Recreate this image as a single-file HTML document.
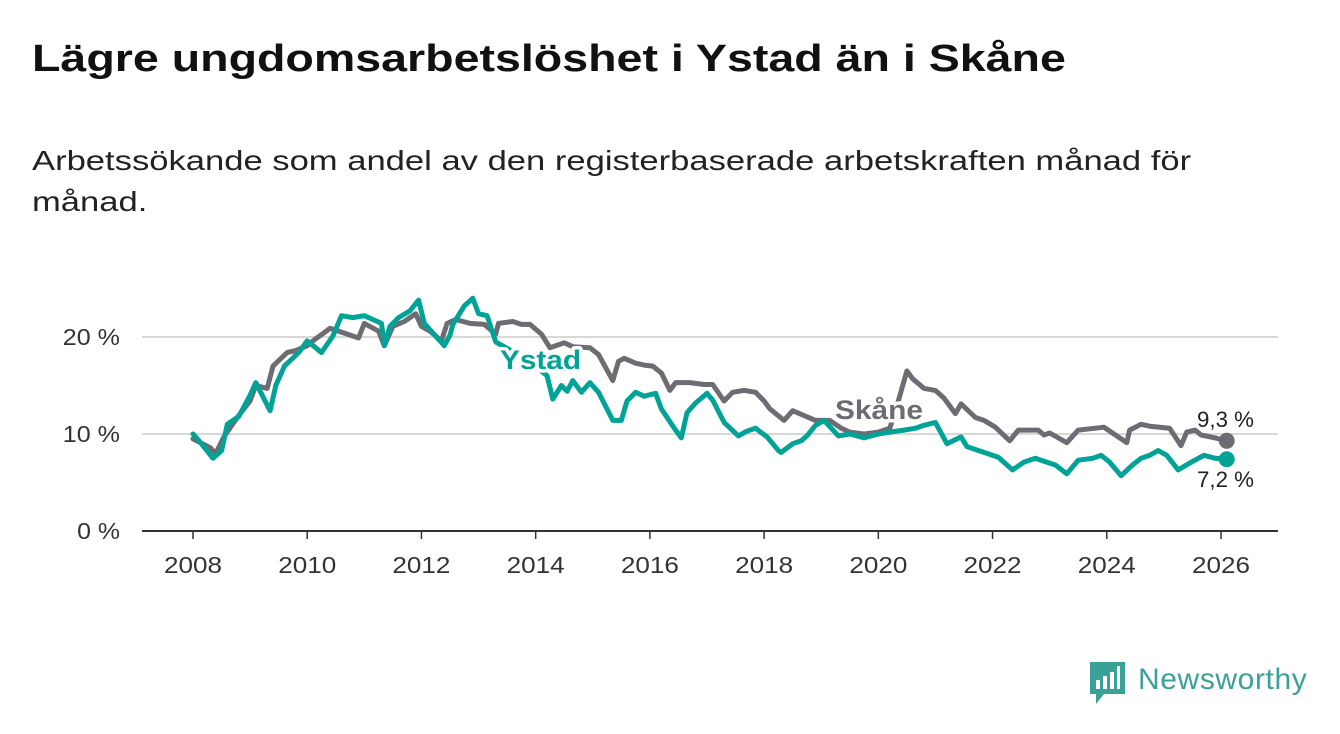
<!DOCTYPE html>
<html><head><meta charset="utf-8"><style>
body{margin:0;width:1340px;height:734px;background:#fff;overflow:hidden;font-family:"Liberation Sans",sans-serif;}
h1{position:absolute;left:32px;top:38px;margin:0;font-size:38px;font-weight:bold;color:#111;white-space:nowrap;transform:scaleX(1.225);transform-origin:0 0}
p.sub{position:absolute;left:32px;top:140px;margin:0;font-size:28px;line-height:41px;color:#222;white-space:nowrap;transform:scaleX(1.235);transform-origin:0 0}
svg{position:absolute;left:0;top:0}
</style></head><body>
<h1>Lägre ungdomsarbetslöshet i Ystad än i Skåne</h1>
<p class="sub">Arbetssökande som andel av den registerbaserade arbetskraften månad för<br>månad.</p>
<svg id="chart" width="1340" height="734"></svg>
<div style="position:absolute;left:1090px;top:662px;display:flex;align-items:center">
<svg width="35" height="43" style="position:static"><path d="M0 0H35V32H14L6 42V32H0Z" fill="#3aa198"/><rect x="6" y="18" width="4" height="9" fill="#fff"/><rect x="13" y="14" width="4" height="13" fill="#fff"/><rect x="20" y="10" width="4" height="17" fill="#fff"/><rect x="27" y="4" width="3" height="23" fill="#fff"/></svg>
<span style="margin-left:13px;font-size:30px;color:#3aa198;margin-top:-8px;letter-spacing:0.6px">Newsworthy</span>
</div>
<script>
const xTicks=[2008,2010,2012,2014,2016,2018,2020,2022,2024,2026];
const yTicks=[0,10,20];
const skaneDates=[2008.0,2008.1,2008.3,2008.4,2008.55,2008.8,2009.0,2009.1,2009.3,2009.4,2009.65,2009.8,2010.0,2010.1,2010.4,2010.65,2010.9,2011.0,2011.25,2011.35,2011.5,2011.7,2011.9,2012.0,2012.15,2012.35,2012.45,2012.6,2012.85,2013.1,2013.3,2013.35,2013.6,2013.75,2013.9,2014.1,2014.25,2014.4,2014.5,2014.65,2014.95,2015.1,2015.35,2015.45,2015.55,2015.75,2015.9,2016.05,2016.2,2016.35,2016.45,2016.7,2016.95,2017.1,2017.3,2017.45,2017.65,2017.85,2018.0,2018.1,2018.35,2018.5,2018.7,2018.9,2019.15,2019.35,2019.5,2019.75,2020.0,2020.2,2020.35,2020.5,2020.6,2020.8,2021.0,2021.15,2021.35,2021.45,2021.7,2021.85,2022.05,2022.3,2022.45,2022.8,2022.9,2023.0,2023.3,2023.5,2023.8,2023.95,2024.1,2024.35,2024.4,2024.6,2024.75,2025.1,2025.3,2025.4,2025.55,2025.65,2025.9,2026.1];
const skaneValues=[9.5,9.2,8.6,8.0,9.8,11.9,13.4,15.0,14.7,17.0,18.4,18.6,19.1,19.6,20.9,20.4,19.9,21.4,20.6,19.1,21.1,21.6,22.4,21.1,20.6,19.6,21.4,21.8,21.4,21.3,20.3,21.4,21.6,21.3,21.3,20.3,18.9,19.2,19.4,19.0,18.9,18.2,15.5,17.5,17.8,17.3,17.1,17.0,16.3,14.5,15.3,15.3,15.1,15.1,13.4,14.3,14.5,14.3,13.4,12.6,11.4,12.4,11.9,11.4,11.4,10.6,10.2,10.0,10.2,10.6,13.4,16.5,15.7,14.7,14.5,13.7,12.1,13.1,11.7,11.4,10.7,9.3,10.4,10.4,9.9,10.1,9.1,10.4,10.6,10.7,10.1,9.1,10.4,11.0,10.8,10.6,8.8,10.2,10.4,9.9,9.6,9.3];
const ystadDates=[2008.0,2008.12,2008.35,2008.5,2008.6,2008.8,2009.0,2009.1,2009.35,2009.45,2009.6,2009.85,2010.0,2010.25,2010.45,2010.6,2010.8,2011.0,2011.3,2011.35,2011.45,2011.6,2011.8,2011.95,2012.05,2012.4,2012.5,2012.55,2012.75,2012.9,2013.0,2013.15,2013.3,2013.6,2013.9,2014.2,2014.3,2014.45,2014.55,2014.65,2014.8,2014.95,2015.1,2015.35,2015.5,2015.6,2015.75,2015.9,2016.1,2016.2,2016.45,2016.55,2016.65,2016.8,2017.0,2017.1,2017.3,2017.55,2017.7,2017.85,2018.05,2018.25,2018.3,2018.5,2018.65,2018.75,2018.9,2019.05,2019.3,2019.5,2019.75,2020.0,2020.2,2020.45,2020.65,2020.8,2021.0,2021.2,2021.45,2021.55,2021.85,2022.1,2022.35,2022.55,2022.75,2022.9,2023.1,2023.3,2023.5,2023.75,2023.9,2024.05,2024.25,2024.45,2024.6,2024.75,2024.9,2025.05,2025.25,2025.45,2025.7,2025.9,2026.1];
const ystadValues=[10.0,9.2,7.5,8.3,11.0,11.8,14.0,15.3,12.4,15.0,17.0,18.4,19.6,18.4,20.1,22.2,22.0,22.2,21.4,19.1,21.1,22.0,22.7,23.8,21.4,19.1,20.2,21.3,23.2,24.0,22.4,22.2,19.5,18.5,17.5,16.0,13.6,15.0,14.4,15.5,14.3,15.3,14.3,11.4,11.4,13.4,14.3,13.9,14.2,12.6,10.4,9.6,12.2,13.2,14.2,13.5,11.2,9.8,10.3,10.6,9.7,8.3,8.1,9.0,9.3,9.8,10.9,11.4,9.8,10.0,9.6,10.0,10.2,10.4,10.6,10.9,11.2,9.0,9.7,8.7,8.1,7.6,6.3,7.1,7.5,7.2,6.8,5.9,7.3,7.5,7.8,7.1,5.7,6.8,7.5,7.8,8.3,7.8,6.3,7.0,7.8,7.5,7.4];
const endLabels=["9,3 %","7,2 %"];
const X0=193,X1=1221,Y0=531,Y10=434;
const xs=t=>X0+(t-2008)*(X1-X0)/18;
const ys=v=>Y0-v*(Y0-Y10)/10;
const NS="http://www.w3.org/2000/svg";
const svg=document.getElementById('chart');
function mk(tag,attrs,parent){const e=document.createElementNS(NS,tag);for(const k in attrs)e.setAttribute(k,attrs[k]);(parent||svg).appendChild(e);return e;}
yTicks.forEach(v=>{
  const g=mk('line',{x1:142,x2:1278,y1:ys(v),y2:ys(v),stroke:v===0?'#333':'#d8d8d8','stroke-width':2});
  
  
  const lbl=v+' %';
  const t=mk('text',{x:120,y:ys(v)+8,'text-anchor':'end','font-size':23,fill:'#333',textLength:lbl.length*14.3,lengthAdjust:'spacingAndGlyphs'});
  t.textContent=lbl;
  
  
});
xTicks.forEach(yr=>{
  const l=mk('line',{x1:xs(yr),x2:xs(yr),y1:Y0,y2:Y0+8,stroke:'#333','stroke-width':1.5});
  
  
  const t=mk('text',{x:xs(yr)-29,y:Y0+42,'font-size':23,fill:'#333',textLength:58,lengthAdjust:'spacingAndGlyphs'});
  t.textContent=yr;
  
  
});
function line(d,v,color,name){
  const p=mk('path',{d:d.map((t,i)=>(i?'L':'M')+xs(t).toFixed(1)+' '+ys(v[i]).toFixed(1)).join(''),fill:'none',stroke:color,'stroke-width':5,'stroke-linejoin':'round','stroke-linecap':'round'});
  
  
  const c=mk('circle',{cx:xs(d[d.length-1]),cy:ys(v[v.length-1]),r:8,fill:color});
  
  
}
line(skaneDates,skaneValues,'#6e6c73','skane-line');
line(ystadDates,ystadValues,'#00a396','ystad-line');
function lab(x,y,txt,color,size,weight,w,name){
  const t=mk('text',{x:x,y:y,'font-size':size,'font-weight':weight,fill:color,stroke:'#fff','stroke-width':7,'paint-order':'stroke','stroke-linejoin':'round',textLength:w,lengthAdjust:'spacingAndGlyphs'});
  t.textContent=txt;
  
  
}
lab(500,369,'Ystad','#00a396',27,'bold',81,'ystad-label');
lab(835,419,'Skåne','#6e6c73',27,'bold',88,'skane-label');
lab(1197,427,endLabels[0],'#222',22,'normal',57,'skane-end-value');
lab(1197,487,endLabels[1],'#222',22,'normal',57,'ystad-end-value');
</script>
</body></html>
